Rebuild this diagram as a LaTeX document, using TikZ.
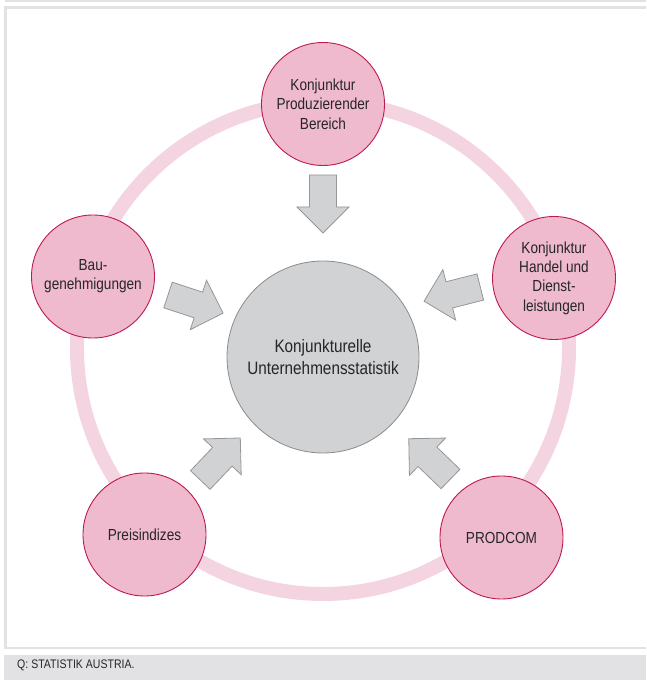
\documentclass[tikz,border=0pt]{standalone}
\usepackage{fontspec}
\setmainfont{Liberation Sans}[FakeStretch=0.85]
\usepackage{tikz}

\definecolor{ringc}{RGB}{245,212,226}
\definecolor{knotc}{RGB}{239,186,206}
\definecolor{knotline}{RGB}{190,25,80}
\definecolor{hubc}{RGB}{209,210,212}
\definecolor{hubline}{RGB}{140,140,142}
\definecolor{arrowline}{RGB}{150,150,152}
\definecolor{framec}{RGB}{226,226,228}
\definecolor{textc}{RGB}{38,38,38}

% block arrow, origin at the middle of its tail, pointing along +x
\newcommand{\blockarrow}[2]{%
	\draw[arrowshape, shift={#1}, rotate=#2] (0,13.5) -- (32,13.5) -- (32,26) -- (58,0)
		-- (32,-26) -- (32,-13.5) -- (0,-13.5) -- cycle;}

\begin{document}
\begin{tikzpicture}[x=1pt, y=1pt,
		knot/.style={draw=knotline, line width=0.9pt, circle, fill=knotc, minimum size=123pt,
			inner sep=0pt, align=center, text=textc, font=\fontsize{16}{19.3}\selectfont},
		arrowshape/.style={draw=arrowline, line width=0.8pt, fill=hubc, line join=miter}]
		\useasboundingbox (0,0) rectangle (646,680);
		\clip (0,0) rectangle (646,680);
		
		% frame and source line
		\fill[framec] (5,678) rectangle (646,680);
		\draw[framec, line width=2.5pt] (5.5,672.5) rectangle (660,32);
		\fill[framec] (4,0) rectangle (646,25);
		\node[anchor=base west, inner sep=0pt, text=textc, font=\fontsize{12.4}{14}\selectfont] (src) at (17,12) {Q: STATISTIK AUSTRIA.};
		
		% ring
		\draw[ringc, line width=14pt] (323,332) circle (246);
		
		\node[draw=hubline, line width=0.8pt, circle, fill=hubc, minimum size=192pt, inner sep=0pt,
			align=center, text=textc, font=\fontsize{18}{22.7}\selectfont] (kus) at (323,323)
			{Konjunkturelle\\Unternehmensstatistik};
		
		\node[knot] (prod) at (323,576) {Konjunktur\\Produzierender\\Bereich};
		\node[knot] (bau) at (93,403.5) {Bau-\\genehmigungen};
		\node[knot] (handel) at (554,402) {Konjunktur\\Handel und\\Dienst-\\leistungen};
		\node[knot] (preis) at (144.5,145.5) {Preisindizes};
		\node[knot] (prodcom) at (501.5,142.5) {PRODCOM};
		
		\blockarrow{(323,505)}{-90}
		\blockarrow{(168,385)}{-18.2}
		\blockarrow{(480.3,393)}{194.2}
		\blockarrow{(200.3,200)}{46.4}
		\blockarrow{(450.5,201)}{136}
		
\end{tikzpicture}
\end{document}
